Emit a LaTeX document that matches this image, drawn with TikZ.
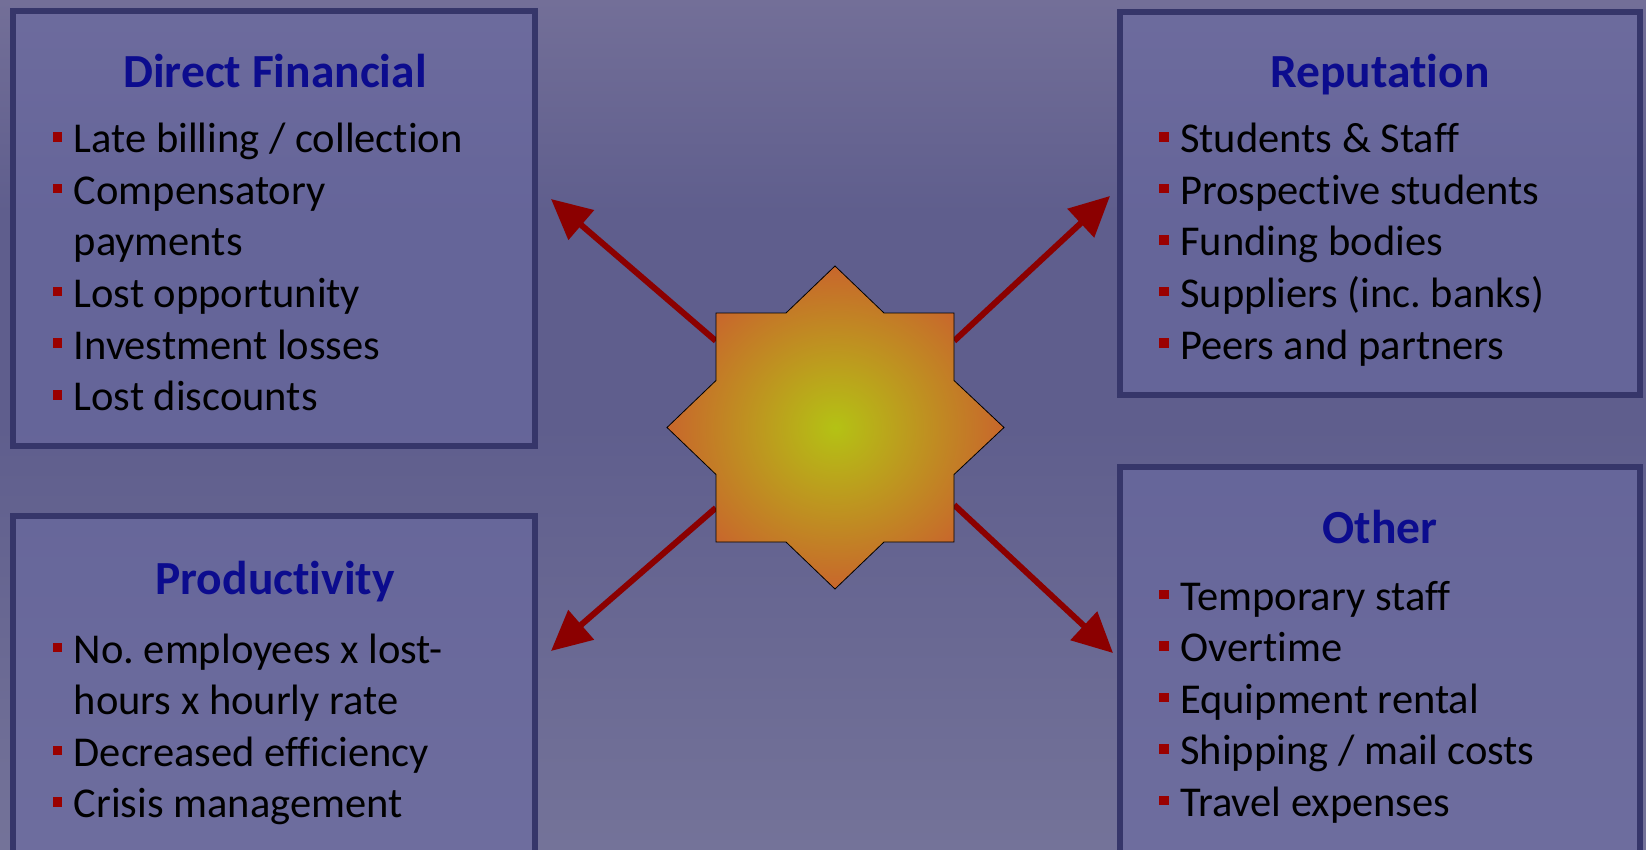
\documentclass[tikz,border=0pt]{standalone}
\usepackage{fontspec}
\setmainfont{Carlito}[Ligatures={NoCommon}]
\usetikzlibrary{arrows.meta,calc}
\definecolor{bgtop}{HTML}{736F98}
\definecolor{bgmid}{HTML}{5F5E8D}
\definecolor{bgbot}{HTML}{747399}
\definecolor{panelborder}{HTML}{36366A}
\definecolor{panelfill}{HTML}{6A6AA2}
\definecolor{titleblue}{HTML}{0C0C8E}
\definecolor{bulred}{HTML}{9A0000}
\definecolor{arrowred}{HTML}{8B0000}
\definecolor{starin}{HTML}{B4C214}
\definecolor{starout}{HTML}{C8662C}
\newcommand{\bul}{\makebox[0pt][r]{\textcolor{bulred}{\rule[11pt]{9.5pt}{9.5pt}}\hspace{11.5pt}}}
\tikzset{
  panel/.style={draw=panelborder, line width=6pt, fill=panelfill, fill opacity=0.6},
  ptitle/.style={anchor=base, inner sep=0pt, text=titleblue, font=\fontsize{47.5}{57}\selectfont\bfseries},
  pline/.style={anchor=base west, inner sep=0pt, text=black, font=\fontsize{42.5}{51.5}\selectfont\frenchspacing},
  conn/.style={draw=arrowred, line width=6pt, -{Triangle[length=40pt,width=38pt]}},
  starbody/.style={inner color=starin, outer color=starout, draw=black, line width=0.8pt},
}
\begin{document}
\begin{tikzpicture}[x=1pt,y=-1pt]
\useasboundingbox (0,0) rectangle (1646,850);
\clip (0,0) rectangle (1646,850);
% background
\shade[top color=bgtop, bottom color=bgmid, middle color=bgmid] (0,0) rectangle (1646,425);
\shade[top color=bgmid, bottom color=bgbot] (0,425) rectangle (1646,850);
% panels
\draw[panel] (13,11) rectangle (535,446);
\draw[panel] (13,516) rectangle (535,900);
\draw[panel] (1120,12) rectangle (1640,395);
\draw[panel] (1120,467) rectangle (1640,900);
% star anchor node
\node[draw=none, minimum width=238pt, minimum height=229pt, inner sep=0pt] (star) at (835,427.5) {};
% connector ends
\coordinate (tUL) at (551,199);
\coordinate (tUR) at (1110,196);
\coordinate (tLL) at (551,651);
\coordinate (tLR) at (1113,653);
\draw[conn] (star.144) -- (tUL);
\draw[conn] (star.36) -- (tUR);
\draw[conn] (star.214) -- (tLL);
\draw[conn] (star.327) -- (tLR);
% star
\shade[starbody, shift={(star.center)}]
  (-119,-114.5) -- (-49,-114.5) -- (0,-161.5) -- (49,-114.5) -- (119,-114.5)
  -- (119,-47) -- (169,0) -- (119,47) -- (119,114.5) -- (49,114.5)
  -- (0,161.5) -- (-49,114.5) -- (-119,114.5) -- (-119,47) -- (-168,0)
  -- (-119,-47) -- cycle;
% Direct Financial
\node[ptitle] (dfT) at (275,88) {Direct Financial};
\node[pline] (df1) at (73.5,153) {\bul Late billing / collection};
\node[pline] (df2) at (73.5,204.5) {\bul Compensatory};
\node[pline] (df3) at (73.5,256) {payments};
\node[pline] (df4) at (73.5,307.5) {\bul Lost opportunity};
\node[pline] (df5) at (73.5,359) {\bul Investment losses};
\node[pline] (df6) at (73.5,410.5) {\bul Lost discounts};
% Reputation
\node[ptitle] (reT) at (1380,88) {Reputation};
\node[pline] (re1) at (1180,153) {\bul Students \& Staff};
\node[pline] (re2) at (1180,204.5) {\bul Prospective students};
\node[pline] (re3) at (1180,256) {\bul Funding bodies};
\node[pline] (re4) at (1180,307.5) {\bul Suppliers (inc. banks)};
\node[pline] (re5) at (1180,359) {\bul Peers and partners};
% Productivity
\node[ptitle] (prT) at (275,594) {Productivity};
\node[pline] (pr1) at (73.5,663) {\bul No. employees x lost-};
\node[pline] (pr2) at (73.5,714.5) {hours x hourly rate};
\node[pline] (pr3) at (73.5,766) {\bul Decreased efficiency};
\node[pline] (pr4) at (73.5,817.5) {\bul Crisis management};
% Other
\node[ptitle] (otT) at (1380,543) {Other};
\node[pline] (ot1) at (1180,610) {\bul Temporary staff};
\node[pline] (ot2) at (1180,661.5) {\bul Overtime};
\node[pline] (ot3) at (1180,713) {\bul Equipment rental};
\node[pline] (ot4) at (1180,764.5) {\bul Shipping / mail costs};
\node[pline] (ot5) at (1180,816) {\bul Travel expenses};
\end{tikzpicture}
\end{document}
